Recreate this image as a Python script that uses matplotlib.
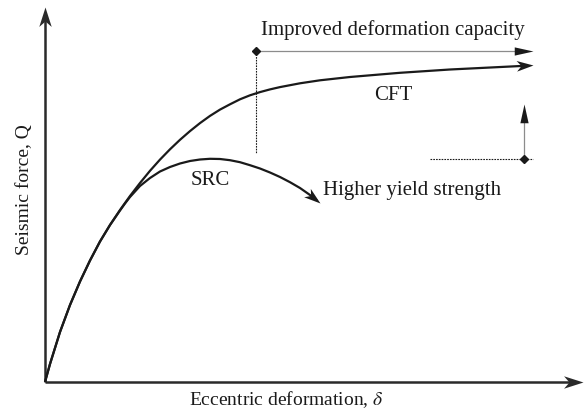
import numpy as np
import matplotlib.pyplot as plt
from matplotlib.path import Path
from matplotlib.markers import MarkerStyle
from matplotlib.transforms import Affine2D

plt.rcParams['font.family'] = ['Liberation Serif', 'DejaVu Serif']
plt.rcParams['mathtext.fontset'] = 'stix'

# load-deformation curves (schematic units)
cft_x = [0, 5, 15, 25, 35, 45, 55, 65, 75, 85, 95, 105, 115, 125, 135, 145, 155,
         165, 175, 185, 195, 205, 215, 225, 235, 255, 275, 305, 355, 405, 488]
cft_y = [0, 18, 50, 77, 100.5, 121.5, 140.5, 157, 172, 186, 199, 211.2, 222.4,
         232.7, 242.2, 250.9, 258.9, 266.1, 272.4, 277.7, 282.7, 286.7, 289.9,
         292.6, 294.9, 298.7, 301.7, 305, 309.2, 312.5, 316.6]
src_x = [0, 5, 15, 25, 35, 45, 55, 65, 75, 80, 85, 95, 105, 115, 125, 135, 145,
         155, 165, 175, 185, 195, 205, 215, 225, 235, 245, 255, 265, 275]
src_y = [0, 18, 50, 77, 100.5, 121.5, 140.5, 157, 171.5, 178.5, 185, 196, 204,
         210.5, 215, 218.5, 221, 222.5, 223.2, 223, 221.8, 219.8, 216.8, 213.5,
         209.5, 205, 199.8, 194, 187, 179]

# markers for the capacity / strength gains
cap_start = (211, 331)
cap_end = (488, 331)
str_start = (479, 223)
str_end = (479, 278)
dot_v = ([211, 211], [331, 229])
dot_h = ([385, 488], [223, 223])

x_axis_end = 538
y_axis_end = 375

INK = '#1a1a1a'
AXIS = '#2a2a2a'
GUIDE = '#8c8c8c'

STEALTH = Path([(0, 0), (-1, 0.32), (-0.72, 0), (-1, -0.32), (0, 0)],
               [Path.MOVETO, Path.LINETO, Path.LINETO, Path.LINETO, Path.CLOSEPOLY])
TRIANGLE = Path([(0, 0), (-1, 0.22), (-1, -0.22), (0, 0)],
                [Path.MOVETO, Path.LINETO, Path.LINETO, Path.CLOSEPOLY])


def head(ax, x, y, angle, size, shape=STEALTH, color=INK):
    """Arrowhead with its tip at (x, y), pointing along angle (deg)."""
    m = MarkerStyle(shape, transform=Affine2D().rotate_deg(angle))
    ax.plot([x], [y], marker=m, markersize=size, color=color,
            markeredgewidth=0, linestyle='none', zorder=5)


def arrow_curve(ax, xs, ys, back=6, lw=1.6):
    """Solid curve that ends in a notched arrowhead."""
    xs, ys = np.asarray(xs, float), np.asarray(ys, float)
    ang = np.arctan2(ys[-1] - ys[-2], xs[-1] - xs[-2])
    lx = np.append(xs[:-1], xs[-1] - back * np.cos(ang))
    ly = np.append(ys[:-1], ys[-1] - back * np.sin(ang))
    ax.plot(lx, ly, color=INK, lw=lw, solid_capstyle='butt')
    head(ax, xs[-1], ys[-1], np.degrees(ang), 24)


def guide_arrow(ax, start, end):
    """Thin grey line ending in a small black triangle."""
    ang = np.arctan2(end[1] - start[1], end[0] - start[0])
    ax.plot([start[0], end[0] - 12 * np.cos(ang)], [start[1], end[1] - 12 * np.sin(ang)],
            color=GUIDE, lw=0.9)
    head(ax, end[0], end[1], np.degrees(ang), 27, shape=TRIANGLE)


fig = plt.figure(figsize=(5.85, 4.12), dpi=100)
ax = fig.add_axes([0, 0, 1, 1])
ax.set_xlim(-45, 540)
ax.set_ylim(-30, 382)
ax.axis('off')

# axes
ax.plot([0, x_axis_end - 8], [0, 0], color=AXIS, lw=1.8, solid_capstyle='butt')
ax.plot([0, 0], [0, y_axis_end - 8], color=AXIS, lw=1.8, solid_capstyle='butt')
head(ax, x_axis_end, 0, 0, 28, color=AXIS)
head(ax, 0, y_axis_end, 90, 28, color=AXIS)

# curves
arrow_curve(ax, cft_x, cft_y)
arrow_curve(ax, src_x, src_y, back=4)

# guide lines
ax.plot(*dot_v, color=INK, lw=0.8, dashes=(1.5, 1))
ax.plot(*dot_h, color=INK, lw=0.8, dashes=(1.5, 1))
guide_arrow(ax, cap_start, cap_end)
guide_arrow(ax, str_start, str_end)
ax.plot([cap_start[0], str_start[0]], [cap_start[1], str_start[1]],
        marker='D', markersize=4.5, color=INK, linestyle='none', zorder=6)

# labels
fs = 15
ax.text(348, 347, 'Improved deformation capacity', fontsize=fs, ha='center', va='baseline', color=INK)
ax.text(348, 282, 'CFT', fontsize=fs, ha='center', va='baseline', color=INK)
ax.text(165, 197, 'SRC', fontsize=fs, ha='center', va='baseline', color=INK)
ax.text(278, 187, 'Higher yield strength', fontsize=fs, ha='left', va='baseline', color=INK)
ax.text(241, -23, r'Eccentric deformation, $\delta$', fontsize=14, ha='center', va='baseline', color=INK)
ax.text(-20, 192, 'Seismic force, Q', fontsize=14, ha='center', va='center', rotation=90, color=INK)

fig.savefig('out.png', dpi=100)
